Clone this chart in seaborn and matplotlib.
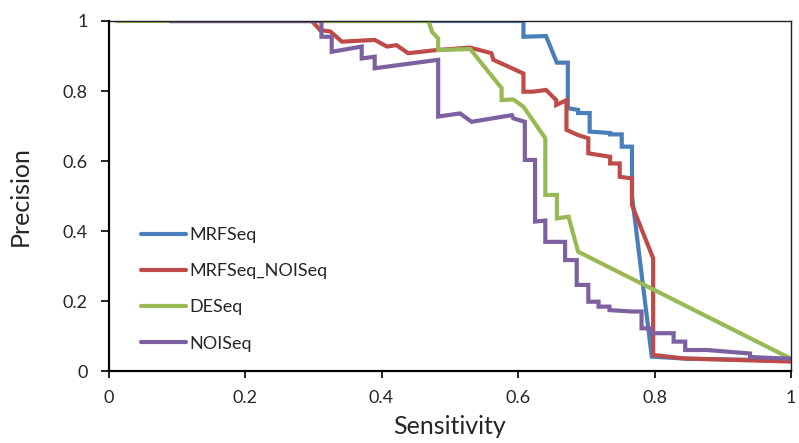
import matplotlib
matplotlib.use("Agg")
import matplotlib.pyplot as plt
import seaborn as sns
import pandas as pd

series_names = ["MRFSeq", "MRFSeq_NOISeq", "DESeq", "NOISeq"]
colors = ["#4A7EBB", "#BE4B48", "#98B954", "#7D60A0"]

mrf_x = [0.09, 0.608, 0.608, 0.641, 0.657, 0.673, 0.673, 0.688, 0.688, 0.705, 0.705, 0.735, 0.735,
         0.752, 0.752, 0.767, 0.767, 0.796, 0.85, 1.0]
mrf_y = [1.0, 1.0, 0.955, 0.957, 0.881, 0.881, 0.751, 0.746, 0.737, 0.737, 0.684, 0.68, 0.676,
         0.676, 0.641, 0.641, 0.5, 0.041, 0.035, 0.03]

mn_x = [0.09, 0.298, 0.31, 0.325, 0.342, 0.39, 0.408, 0.422, 0.439, 0.481, 0.53, 0.561, 0.564,
        0.608, 0.608, 0.622, 0.641, 0.656, 0.656, 0.671, 0.671, 0.688, 0.703, 0.703, 0.735, 0.735,
        0.749, 0.749, 0.767, 0.767, 0.798, 0.798, 0.842, 1.0]
mn_y = [1.0, 1.0, 0.974, 0.97, 0.941, 0.946, 0.927, 0.931, 0.908, 0.917, 0.924, 0.908, 0.889,
        0.85, 0.798, 0.798, 0.803, 0.774, 0.76, 0.774, 0.689, 0.674, 0.665, 0.622, 0.612, 0.593,
        0.593, 0.555, 0.55, 0.474, 0.322, 0.046, 0.036, 0.027]

de_x = [0.012, 0.469, 0.474, 0.483, 0.483, 0.53, 0.539, 0.576, 0.576, 0.593, 0.608, 0.64, 0.64,
        0.657, 0.657, 0.674, 0.688, 1.0]
de_y = [1.0, 1.0, 0.969, 0.95, 0.917, 0.92, 0.898, 0.808, 0.774, 0.776, 0.755, 0.665, 0.503,
        0.503, 0.436, 0.441, 0.341, 0.035]

noi_x = [0.09, 0.312, 0.312, 0.327, 0.327, 0.371, 0.371, 0.39, 0.39, 0.483, 0.483, 0.515, 0.532,
         0.591, 0.593, 0.61, 0.61, 0.625, 0.625, 0.64, 0.64, 0.669, 0.669, 0.686, 0.686, 0.703,
         0.703, 0.718, 0.718, 0.734, 0.734, 0.767, 0.781, 0.781, 0.796, 0.796, 0.828, 0.828,
         0.845, 0.845, 0.877, 0.94, 0.94, 1.0]
noi_y = [1.0, 1.0, 0.955, 0.955, 0.912, 0.927, 0.893, 0.898, 0.865, 0.889, 0.727, 0.736, 0.712,
         0.731, 0.722, 0.712, 0.603, 0.603, 0.427, 0.43, 0.369, 0.369, 0.317, 0.317, 0.246, 0.246,
         0.198, 0.198, 0.184, 0.184, 0.174, 0.17, 0.17, 0.122, 0.122, 0.108, 0.108, 0.084,
         0.084, 0.06, 0.06, 0.05, 0.04, 0.035]

xticks = [0, 0.2, 0.4, 0.6, 0.8, 1]
yticks = [0, 0.2, 0.4, 0.6, 0.8, 1]
tick_labels = ["0", "0.2", "0.4", "0.6", "0.8", "1"]

frames = []
for name, xs, ys in zip(series_names, [mrf_x, mn_x, de_x, noi_x], [mrf_y, mn_y, de_y, noi_y]):
    frames.append(pd.DataFrame({"Sensitivity": xs, "Precision": ys, "Method": name}))
df = pd.concat(frames, ignore_index=True)

sns.set_style("white")
plt.rcParams["font.family"] = ["Lato", "DejaVu Sans"]

fig = plt.figure(figsize=(7.99, 4.43), dpi=100)
ax = fig.add_axes([0.1358, 0.1625, 0.8542, 0.7901])

sns.lineplot(data=df, x="Sensitivity", y="Precision", hue="Method", hue_order=series_names,
             palette=colors, sort=False, estimator=None, linewidth=3.0, ax=ax)
for ln in ax.get_lines():
    ln.set_solid_joinstyle("miter")

ax.set_xlim(0, 1)
ax.set_ylim(0, 1)
ax.set_xticks(xticks)
ax.set_yticks(yticks)
ax.set_xticklabels(tick_labels, fontsize=13)
ax.set_yticklabels(tick_labels, fontsize=13)
ax.tick_params(axis="x", direction="out", length=5, width=1.2, color="black", bottom=True, pad=9)
ax.tick_params(axis="y", direction="out", length=6, width=1.2, color="black", left=True, pad=9)
ax.set_xlabel("Sensitivity", fontsize=18, labelpad=6)
ax.set_ylabel("Precision", fontsize=18, labelpad=22)
for side in ["left", "bottom"]:
    ax.spines[side].set_color("black")
    ax.spines[side].set_linewidth(1.6)
for side in ["top", "right"]:
    ax.spines[side].set_color("#222222")
    ax.spines[side].set_linewidth(1.0)

leg = ax.legend(loc="upper left", bbox_to_anchor=(0.037, 0.432), frameon=False, fontsize=13,
                handlelength=2.5, handletextpad=0.2, labelspacing=1.12, borderaxespad=0)
for h in leg.legend_handles:
    h.set_linewidth(3.0)

fig.savefig("out.png", dpi=100)
